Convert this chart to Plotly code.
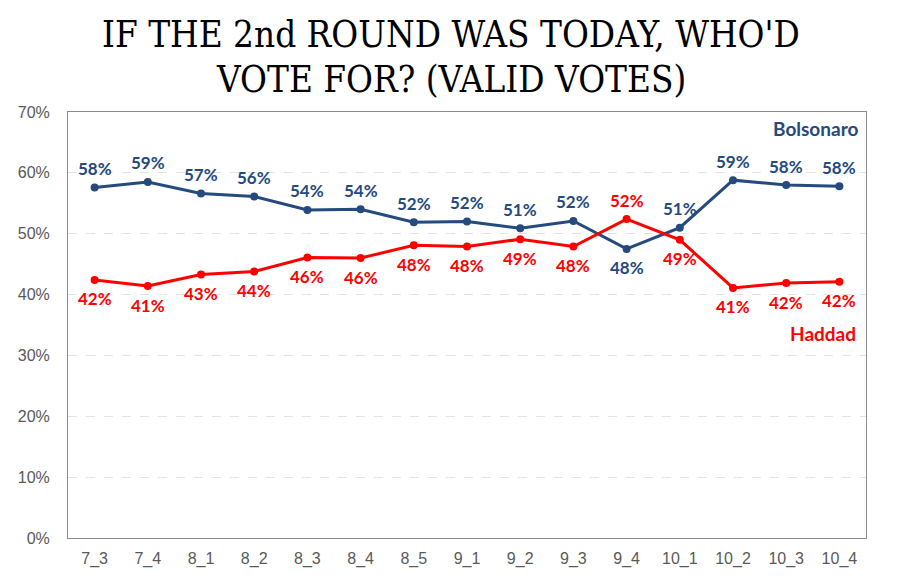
import plotly.graph_objects as go

categories = ["7_3", "7_4", "8_1", "8_2", "8_3", "8_4", "8_5", "9_1", "9_2", "9_3", "9_4", "10_1", "10_2", "10_3", "10_4"]
bolsonaro = [57.6, 58.5, 56.6, 56.1, 53.9, 54.0, 51.9, 52.0, 50.9, 52.1, 47.5, 51.0, 58.8, 58.0, 57.8]
haddad = [42.4, 41.4, 43.3, 43.8, 46.1, 46.0, 48.1, 47.9, 49.1, 47.9, 52.4, 49.0, 41.1, 41.9, 42.1]
bolsonaro_labels = ["58%", "59%", "57%", "56%", "54%", "54%", "52%", "52%", "51%", "52%", "48%", "51%", "59%", "58%", "58%"]
haddad_labels = ["42%", "41%", "43%", "44%", "46%", "46%", "48%", "48%", "49%", "48%", "52%", "49%", "41%", "42%", "42%"]
y_ticks = [0, 10, 20, 30, 40, 50, 60, 70]
y_tick_labels = ["0%", "10%", "20%", "30%", "40%", "50%", "60%", "70%"]

BLUE = "#244A7E"
RED = "#FF0000"
LABEL_FONT = "Lato"
TITLE_FONT = "DejaVu Serif Condensed, DejaVu Serif"

fig = go.Figure()
fig.add_trace(go.Scatter(
    x=categories, y=bolsonaro, mode="lines+markers", name="Bolsonaro",
    line=dict(color=BLUE, width=3), marker=dict(color=BLUE, size=8),
))
fig.add_trace(go.Scatter(
    x=categories, y=haddad, mode="lines+markers", name="Haddad",
    line=dict(color=RED, width=3), marker=dict(color=RED, size=8),
))

annotations = []
for c, b, h, bl, hl in zip(categories, bolsonaro, haddad, bolsonaro_labels, haddad_labels):
    b_up = b >= h
    annotations.append(dict(x=c, y=b, xref="x", yref="y", text=f"<b>{bl}</b>", showarrow=False,
                            yshift=19 if b_up else -19, font=dict(family=LABEL_FONT, size=17, color=BLUE)))
    annotations.append(dict(x=c, y=h, xref="x", yref="y", text=f"<b>{hl}</b>", showarrow=False,
                            yshift=-19 if b_up else 19, font=dict(family=LABEL_FONT, size=17, color=RED)))

annotations += [
    dict(x=0.993, y=0.962, xref="paper", yref="paper", text="<b>Bolsonaro</b>",
         showarrow=False, xanchor="right", yanchor="middle",
         font=dict(family=LABEL_FONT, size=19, color=BLUE)),
    dict(x=0.99, y=0.481, xref="paper", yref="paper", text="<b>Haddad</b>",
         showarrow=False, xanchor="right", yanchor="middle",
         font=dict(family=LABEL_FONT, size=19, color=RED)),
    dict(x=0.48, y=1.183, xref="paper", yref="paper", text="IF THE 2nd ROUND WAS TODAY, WHO'D",
         showarrow=False, xanchor="center", yanchor="middle",
         font=dict(family=TITLE_FONT, size=36.5, color="black")),
    dict(x=0.48, y=1.076, xref="paper", yref="paper", text="VOTE FOR? (VALID VOTES)",
         showarrow=False, xanchor="center", yanchor="middle",
         font=dict(family=TITLE_FONT, size=36.5, color="black")),
]

# The page body adds an 8px offset, so the figure is sized to fill the window after it.
fig.update_layout(
    width=891, height=574,
    paper_bgcolor="white", plot_bgcolor="white",
    margin=dict(l=60, r=33, t=104, b=44, autoexpand=False),
    showlegend=False,
    annotations=annotations,
    xaxis=dict(type="category", range=[-0.5, 14.5], showgrid=False, automargin=False,
               showline=True, linecolor="#8C8C8C", linewidth=1, mirror=True,
               ticks="", tickfont=dict(family="Liberation Sans Narrow, Liberation Sans", size=16, color="#595959"),
               ticklabelstandoff=6),
    yaxis=dict(range=[0, 70], tickvals=y_ticks, ticktext=y_tick_labels, automargin=False,
               showgrid=True, gridcolor="#E3E3E3", griddash="dash", gridwidth=1,
               showline=True, linecolor="#8C8C8C", linewidth=1, mirror=True,
               zeroline=False, ticks="",
               tickfont=dict(family="Liberation Sans Narrow, Liberation Sans", size=16, color="#595959"),
               ticklabelstandoff=14),
)

fig.write_html("out.html")
